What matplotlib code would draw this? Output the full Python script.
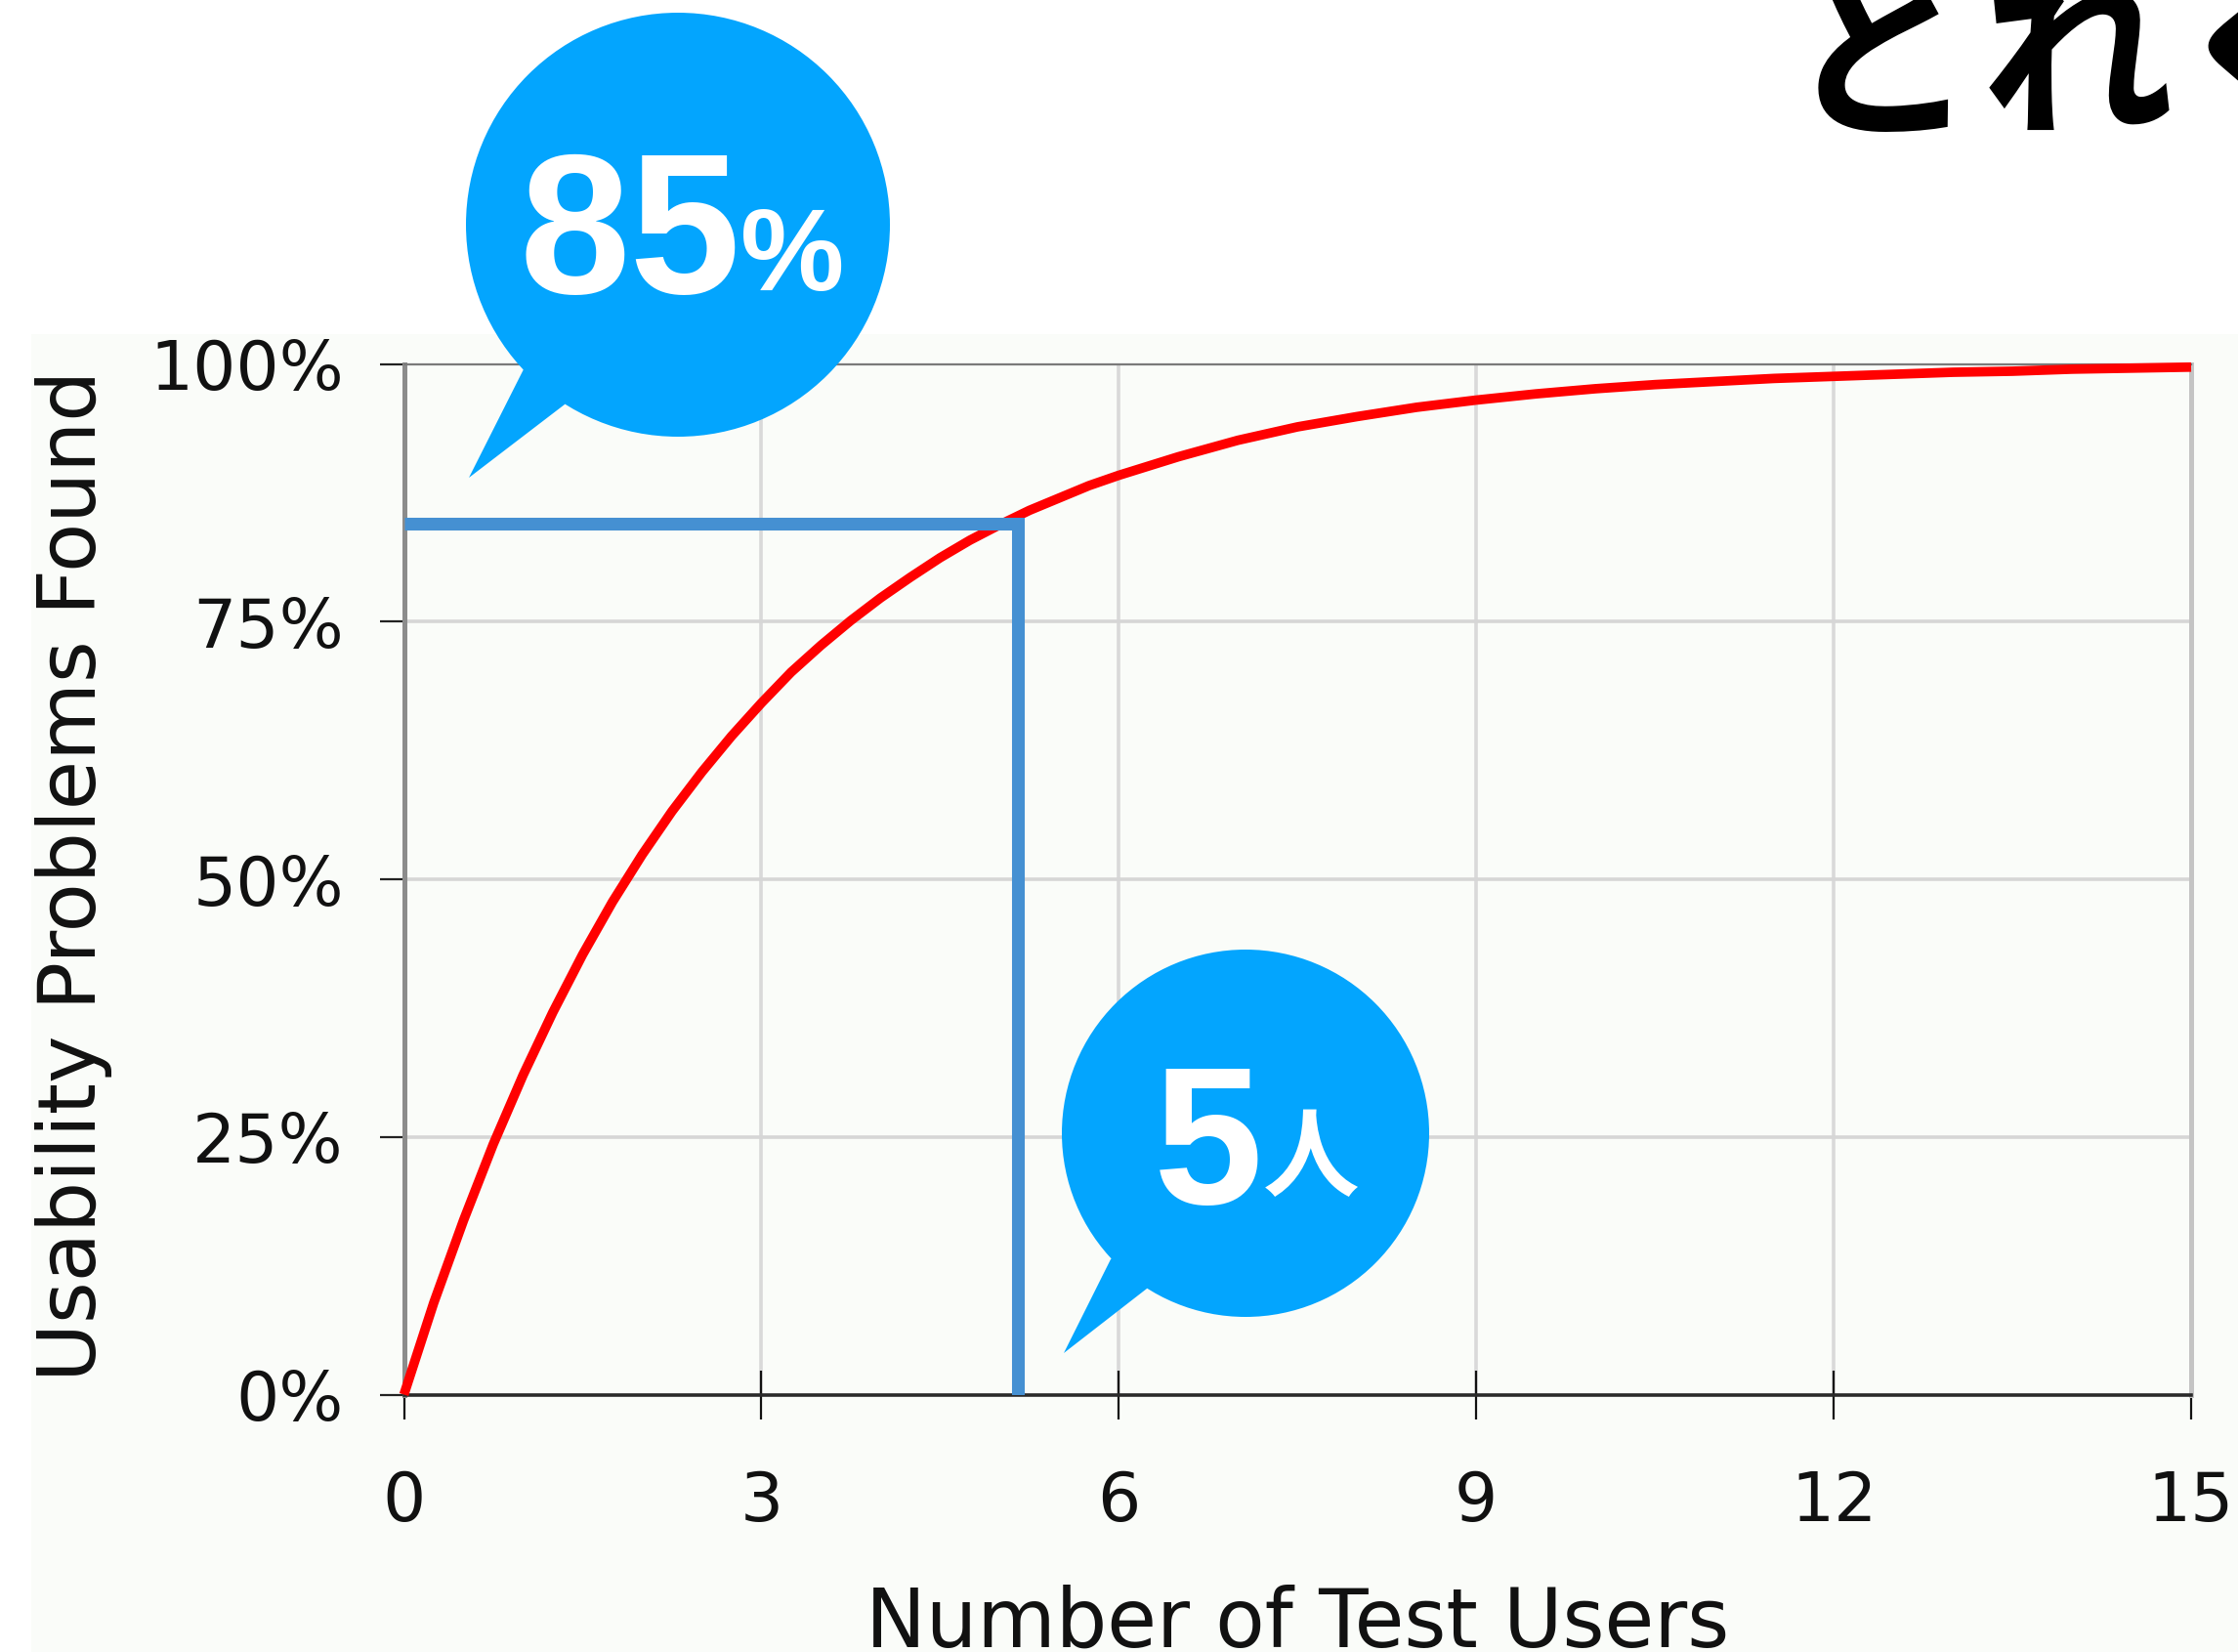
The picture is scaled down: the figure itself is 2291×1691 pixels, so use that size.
import matplotlib
matplotlib.use("Agg")
import matplotlib.pyplot as plt
from matplotlib.patches import Circle, Polygon, Rectangle

# ---- data ----
users = [0, 0.25, 0.5, 0.75, 1, 1.25, 1.5, 1.75, 2, 2.25, 2.5, 2.75, 3, 3.25, 3.5, 3.75,
         4, 4.25, 4.5, 4.75, 5, 5.25, 5.5, 5.75, 6, 6.5, 7, 7.5, 8, 8.5, 9, 9.5, 10,
         10.5, 11, 11.5, 12, 12.5, 13, 13.5, 14, 14.5, 15]
found = [0.0, 0.089, 0.169, 0.243, 0.310, 0.371, 0.427, 0.478, 0.524, 0.566, 0.604, 0.639,
         0.671, 0.701, 0.727, 0.751, 0.773, 0.793, 0.812, 0.829, 0.844, 0.858, 0.870, 0.882,
         0.892, 0.910, 0.926, 0.939, 0.949, 0.958, 0.965, 0.971, 0.976, 0.980, 0.983, 0.986,
         0.988, 0.990, 0.992, 0.993, 0.995, 0.996, 0.997]
marker_x = 5.15
marker_y = 0.845
x_ticks = [0, 3, 6, 9, 12, 15]
y_ticks = [0, 0.25, 0.5, 0.75, 1.0]
y_tick_labels = ["0%", "25%", "50%", "75%", "100%"]
x_label = "Number of Test Users"
y_label = "Usability Problems Found"
title_text = "どれく"
bubble1_num, bubble1_unit = "85", "%"
bubble2_num, bubble2_unit = "5", "人"

W, H = 2291, 1691
DPI = 100
fig = plt.figure(figsize=(W / DPI, H / DPI), dpi=DPI, facecolor="white")

# chart panel background
fig.add_artist(Rectangle((32 / W, 0), 1 - 32 / W, 1 - 342 / H, transform=fig.transFigure,
                         facecolor="#fafcf9", edgecolor="none", zorder=-5))

L, R, T, B = 413.5, 2243, 372.6, 1427.5
ax = fig.add_axes([L / W, 1 - B / H, (R - L) / W, (B - T) / H])
ax.set_facecolor("none")
ax.set_xlim(0, 15)
ax.set_ylim(0, 1)

# grid
for xv in x_ticks[1:-1]:
    ax.axvline(xv, color="#d9d9d9", lw=2.6, zorder=1)
for yv in y_ticks[1:-1]:
    ax.axhline(yv, color="#d6d6d6", lw=2.6, zorder=1)

# spines
ax.spines["left"].set_color("#8c8c8c")
ax.spines["left"].set_linewidth(3.6)
ax.spines["right"].set_color("#c4c4c4")
ax.spines["right"].set_linewidth(3.6)
ax.spines["top"].set_color("#7a7a7a")
ax.spines["top"].set_linewidth(1.6)
ax.spines["bottom"].set_color("#2a2a2a")
ax.spines["bottom"].set_linewidth(2.6)
for s in ax.spines.values():
    s.set_zorder(2)

# curve and marker lines
ax.plot(users, found, color="#ff0000", lw=7, zorder=4, solid_capstyle="butt",
        solid_joinstyle="round", clip_on=False)
ax.plot([0, marker_x, marker_x], [marker_y, marker_y, 0], color="#4590d2", lw=9.4,
        zorder=5, solid_joinstyle="miter", solid_capstyle="butt")

# ticks
ax.set_xticks(x_ticks)
ax.set_xticklabels([str(v) for v in x_ticks])
ax.set_yticks(y_ticks)
ax.set_yticklabels(y_tick_labels)
ax.tick_params(axis="x", direction="inout", length=36, width=1.6, color="#111111",
               pad=37.4, labelsize=50, labelcolor="#111111")
ax.tick_params(axis="y", direction="out", length=18, width=1.6, color="#222222",
               pad=26.3, labelsize=50, labelcolor="#111111")
for lab in ax.get_xticklabels() + ax.get_yticklabels():
    lab.set_family("DejaVu Sans")

# axis labels
fig.text((L + R) / 2 / W, 1 - 1686 / H, x_label, ha="center", va="baseline",
         fontsize=59.5, family="DejaVu Sans", color="#111111")
fig.text(75.5 / W, 1 - ((T + B) / 2 - 4) / H, y_label, ha="center", va="center", rotation=90,
         fontsize=59, family="DejaVu Sans", color="#111111")

# overlay for bubbles and title (pixel coordinates)
ov = fig.add_axes([0, 0, 1, 1])
ov.set_xlim(0, W)
ov.set_ylim(H, 0)
ov.axis("off")
ov.set_zorder(10)
ov.patch.set_alpha(0)

bubble_color = "#03a5fe"
# bubble 1
ov.add_patch(Circle((694, 230), 217, facecolor=bubble_color, edgecolor="none"))
ov.add_patch(Polygon([(536, 378), (480, 489), (578, 414), (694, 230)], closed=True,
                     facecolor=bubble_color, edgecolor="none"))
ov.text(758, 300, bubble1_num, ha="right", va="baseline", fontsize=147, fontweight="bold",
        family=["Liberation Sans", "DejaVu Sans"], color="white")
ov.text(758, 297, bubble1_unit, ha="left", va="baseline", fontsize=86, fontweight="bold",
        family=["Liberation Sans", "DejaVu Sans"], color="white")

# bubble 2
ov.add_patch(Circle((1275, 1160), 188, facecolor=bubble_color, edgecolor="none"))
ov.add_patch(Polygon([(1137, 1289), (1089, 1385), (1174, 1319), (1275, 1160)], closed=True,
                     facecolor=bubble_color, edgecolor="none"))
ov.text(1293, 1232, bubble2_num, ha="right", va="baseline", fontsize=145, fontweight="bold",
        family=["Liberation Sans", "DejaVu Sans"], color="white")
ov.text(1293, 1217, bubble2_unit, ha="left", va="baseline", fontsize=71, fontweight=600,
        family=["Noto Sans CJK JP", "DejaVu Sans"], color="white")

# title (cut by the right edge, as in the reference)
ov.text(1832, 124, title_text, ha="left", va="baseline", fontsize=142, fontweight="bold",
        family=["Noto Sans CJK JP", "DejaVu Sans"], color="black")

fig.savefig("out.png", dpi=DPI, facecolor="white")
